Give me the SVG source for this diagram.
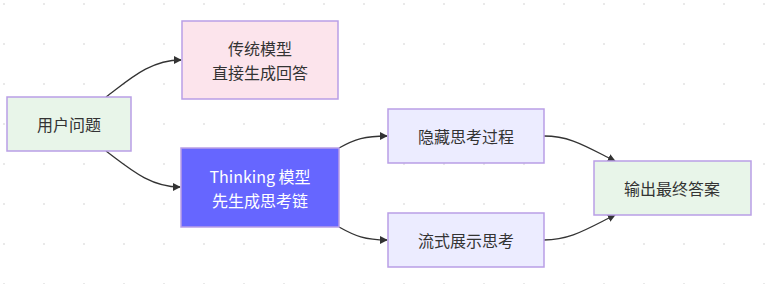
<svg xmlns="http://www.w3.org/2000/svg" width="768" height="284" viewBox="0 0 768 284">
<defs>
<pattern id="dots" x="0" y="0" width="40" height="40" patternUnits="userSpaceOnUse">
<circle cx="4" cy="4" r="1" fill="#e2e2e2"/>
</pattern>
<marker id="arrow" viewBox="0 0 10 10" refX="9" refY="5" markerWidth="8" markerHeight="8" markerUnits="userSpaceOnUse" orient="auto">
<path d="M0,0 L10,5 L0,10 z" fill="#333"/>
</marker>
</defs>
<style>
.node rect{stroke:#b99ee6;stroke-width:1.5}
.lbl{font-family:"Noto Sans CJK SC","Liberation Sans",sans-serif;font-size:16px;fill:#333;text-anchor:middle;dominant-baseline:central}
.white{fill:#fff}
.edge{fill:none;stroke:#333;stroke-width:1.3;marker-end:url(#arrow)}
</style>
<rect width="768" height="284" fill="#fff"/>
<rect width="768" height="284" fill="url(#dots)"/>
<g id="connectors">
<path class="edge" d="M106,97 C130,79 150,60 181,60"/>
<path class="edge" d="M106,151 C130,169 150,187 180,187"/>
<path class="edge" d="M339,148 C355,139 365,136 387,136"/>
<path class="edge" d="M339,227 C355,236 365,240 387,240"/>
<path class="edge" d="M544,136 C570,136 585,146 615,161"/>
<path class="edge" d="M544,240 C570,240 585,230 615,215"/>
</g>
<g id="user" class="node">
<rect x="7" y="97" width="124" height="54" fill="#e8f5e9"/>
<text class="lbl" x="69" y="124">用户问题</text>
</g>
<g id="traditional" class="node">
<rect x="182" y="21" width="156" height="78" fill="#fce4ec"/>
<text class="lbl" x="260" y="48">传统模型</text>
<text class="lbl" x="260" y="72">直接生成回答</text>
</g>
<g id="thinking" class="node">
<rect x="181" y="148" width="158" height="79" fill="#6666ff"/>
<text class="lbl white" x="260" y="176">Thinking 模型</text>
<text class="lbl white" x="260" y="200">先生成思考链</text>
</g>
<g id="hidden" class="node">
<rect x="388" y="109" width="156" height="54" fill="#ececff"/>
<text class="lbl" x="466" y="136">隐藏思考过程</text>
</g>
<g id="stream" class="node">
<rect x="388" y="213" width="156" height="54" fill="#ececff"/>
<text class="lbl" x="466" y="240">流式展示思考</text>
</g>
<g id="output" class="node">
<rect x="594" y="161" width="157" height="54" fill="#e8f5e9"/>
<text class="lbl" x="672" y="188">输出最终答案</text>
</g>
</svg>
